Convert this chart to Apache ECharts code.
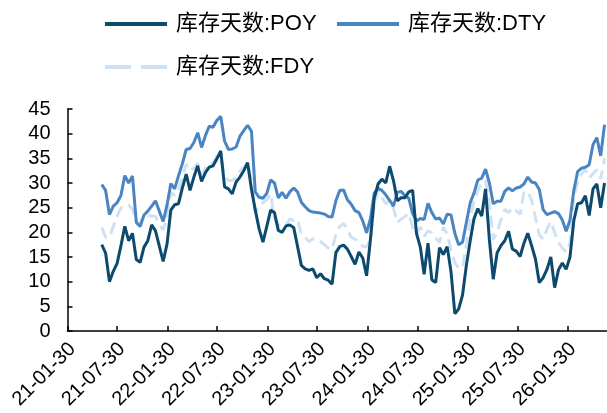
<!DOCTYPE html>
<html>
<head>
<meta charset="utf-8">
<script src="https://cdn.jsdelivr.net/npm/echarts@6/dist/echarts.min.js"></script>
<style>
html,body{margin:0;padding:0;background:#fff;}
#chart{width:607px;height:413px;}
</style>
</head>
<body>
<div id="chart"></div>
<script>
// Bi-weekly observation dates
const dates = [
'2021-06-04','2021-06-18','2021-07-02','2021-07-16','2021-07-30','2021-08-13','2021-08-27','2021-09-10','2021-09-24','2021-10-08','2021-10-22','2021-11-05','2021-11-19','2021-12-03','2021-12-17','2021-12-31',
'2022-01-14','2022-01-28','2022-02-11','2022-02-25','2022-03-11','2022-03-25','2022-04-08','2022-04-22','2022-05-06','2022-05-20','2022-06-03','2022-06-17','2022-07-01','2022-07-15','2022-07-29','2022-08-12','2022-08-26','2022-09-09','2022-09-23','2022-10-07','2022-10-21','2022-11-04','2022-11-18','2022-12-02','2022-12-16','2022-12-30',
'2023-01-13','2023-01-27','2023-02-10','2023-02-24','2023-03-10','2023-03-24','2023-04-07','2023-04-21','2023-05-05','2023-05-19','2023-06-02','2023-06-16','2023-06-30','2023-07-14','2023-07-28','2023-08-11','2023-08-25','2023-09-08','2023-09-22','2023-10-06','2023-10-20','2023-11-03','2023-11-17','2023-12-01','2023-12-15','2023-12-29',
'2024-01-12','2024-01-26','2024-02-09','2024-02-23','2024-03-08','2024-03-22','2024-04-05','2024-04-19','2024-05-03','2024-05-17','2024-05-31','2024-06-14','2024-06-28','2024-07-12','2024-07-26','2024-08-09','2024-08-23','2024-09-06','2024-09-20','2024-10-04','2024-10-18','2024-11-01','2024-11-15','2024-11-29','2024-12-13','2024-12-27',
'2025-01-10','2025-01-24','2025-02-07','2025-02-21','2025-03-07','2025-03-21','2025-04-04','2025-04-18','2025-05-02','2025-05-16','2025-05-30','2025-06-13','2025-06-27','2025-07-11','2025-07-25','2025-08-08','2025-08-22','2025-09-05','2025-09-19','2025-10-03','2025-10-17','2025-10-31','2025-11-14','2025-11-28','2025-12-12','2025-12-26',
'2026-01-09','2026-01-23','2026-02-06','2026-02-20','2026-03-06','2026-03-20','2026-04-03','2026-04-17','2026-05-01','2026-05-15','2026-05-29','2026-06-12'
];

const poy = [
17.5,15.8,10,12.1,13.7,17.3,21.2,18.3,19.8,14.5,13.9,17,18.3,21.5,20.3,17.2,
14.1,17.6,24.5,25.6,25.8,29,31.8,28.5,31.2,33.5,30.3,32.1,33.2,33.5,34.9,36.5,29.2,28.8,27.8,30.2,31.2,32.5,34.1,28.8,24.5,20.7,
18,21.2,24.5,24,20.4,20,21.3,21.5,21,17.2,13.3,12.6,12.3,12.6,10.8,11.6,10.6,10.3,9.5,15.9,17.1,17.4,16.6,15.1,13.5,16,
14.8,11.2,18.5,27,29.8,30.8,30,33.4,30.5,26.4,27,27,28.2,28.5,19.8,17,11.5,17.8,10.4,9.8,16.9,15.5,17.1,12,3.5,4.5,
7.3,13.3,18.3,22.8,24.8,23.3,28.8,18.5,10.5,15.8,17.3,18.3,20.2,16.6,16.2,15.1,17.8,19.8,17.3,14.6,9.8,10.8,12.5,15,8.8,12.4,
13.8,12.5,15,22.4,25.8,26,27.4,23.4,28.8,29.8,25,30
];

const dty = [
29.7,28.5,23.6,25.3,26,27.5,31.5,30,31.4,22,21.2,23.5,24.3,25.3,26.4,24.3,
22.2,25.5,29.9,28.8,31.5,33.9,36.8,37,38.2,40.2,37.2,39.6,41.5,41.3,42.7,43.5,38.5,36.8,36.9,37.3,39.5,40.6,41.7,40.5,28.2,27.1,
26.9,27.9,30.6,30,27,28.1,26.9,28.2,29,28.2,26.1,25.2,24.4,24.1,24,23.9,23.7,23.2,23.1,26.4,28.5,28.6,26.6,25.7,24.4,24,
22.3,19.9,22.7,28,28.9,28.5,27.6,26.5,25.3,28.1,28.3,27.4,26.9,23.8,22.3,22.8,22.6,25.9,24,22.7,22.9,21.7,23.7,23.5,19.8,17.5,
18,22,26,28,30.6,31,32.8,30,25.8,26.3,26.3,28.3,29,28.4,29,29.2,29.8,31.2,30.2,30,28.7,24.6,23.6,23.9,24.2,23.8,
22.5,20.2,22.5,28.5,32.3,33,33.2,33.7,37.8,39.2,35.5,41.8
];

const fdy = [
21,19,19,21.2,23.3,25,25.2,25.5,24.7,22,21.9,23.4,23.4,23.3,23.2,21.6,
20.5,22.8,28,27.5,28.5,31.2,33.8,32.5,33,34,31.7,33,33.7,34.1,35.4,35.5,31.5,30.5,30.5,31.2,32.4,33.2,34,30.5,24.2,25.1,
26,26.6,27.8,22.7,21.5,21.1,21.5,22.7,22.4,22.6,19.6,19,18.1,18.7,18.5,18.1,17.5,16.8,16.6,19.5,21.2,21.8,20.6,19,18.6,18,
17.2,17.1,18.5,25.5,28.5,27,25.8,26.4,24.9,22,22.7,23.2,23.8,21,19.6,21.1,19.2,20.3,19.9,18.9,17.9,21.1,19.7,16.5,13.8,12.8,
12.8,17.5,22.6,26.5,28.5,30,30.5,26,18.5,20.1,22.5,24.7,24,25,24.4,23.6,28.1,28.3,26.5,23,19.5,18.6,20.6,22.2,20,18,
16.8,16,17.8,27,30.3,31.8,32.7,31,31.9,32.7,30.8,35
];

const tickDates = ['2021-01-30','2021-07-30','2022-01-30','2022-07-30','2023-01-30','2023-07-30','2024-01-30','2024-07-30','2025-01-30','2025-07-30','2026-01-30'];
const axisStart = '2021-01-30';
const axisEnd = '2026-06-21';
const seriesNames = ['库存天数:POY','库存天数:DTY','库存天数:FDY'];
const yTicks = [0,5,10,15,20,25,30,35,40,45];

function ts(s){const p=s.split('-').map(Number);return Date.UTC(p[0],p[1]-1,p[2]);}
function pad(n){return (n<10?'0':'')+n;}
function fmt(v){const d=new Date(v);return pad(d.getUTCFullYear()%100)+'-'+pad(d.getUTCMonth()+1)+'-'+pad(d.getUTCDate());}
function pairs(vals){return dates.map((d,i)=>[ts(d),vals[i]]);}

const FONT = '"Liberation Sans", Arial, "Noto Sans CJK SC", sans-serif';
const colors = {poy:'#0c4a6e', dty:'#4a85c2', fdy:'#cfe2f3'};
const tickVals = tickDates.map(ts);

function legendAt(name,left,top,color,dash){
  return {data:[name],left:left,top:top,itemWidth:62,itemHeight:14,
    itemStyle:{opacity:0},
    lineStyle:{width:4,color:color,type:dash||'solid',cap:'butt'},
    textStyle:{fontSize:22,fontFamily:FONT,color:'#000',lineHeight:26,padding:[0,0,0,4]},
    selectedMode:false};
}

const chart = echarts.init(document.getElementById('chart'));
chart.setOption({
  animation:false,
  backgroundColor:'#fff',
  legend:[
    legendAt(seriesNames[0],98,6,colors.poy),
    legendAt(seriesNames[1],330,6,colors.dty),
    legendAt(seriesNames[2],98,49,colors.fdy,[26,10])
  ],
  grid:{left:67.5,right:0,top:109,bottom:82,containLabel:false},
  xAxis:{
    type:'value',min:ts(axisStart),max:ts(axisEnd),scale:true,
    axisLine:{show:true,onZero:false,lineStyle:{color:'#000',width:1.5}},
    axisTick:{show:true,inside:true,length:5,lineStyle:{color:'#000',width:1.5},customValues:tickVals},
    axisLabel:{customValues:tickVals,formatter:v=>fmt(v),rotate:45,margin:20,padding:[0,-7,0,0],fontSize:20,fontFamily:FONT,color:'#000'},
    splitLine:{show:false}
  },
  yAxis:{
    type:'value',min:yTicks[0],max:yTicks[yTicks.length-1],interval:5,
    axisLine:{show:true,lineStyle:{color:'#000',width:1.5}},
    axisTick:{show:true,inside:true,length:5,lineStyle:{color:'#000',width:1.5}},
    axisLabel:{fontSize:20,fontFamily:FONT,color:'#000',margin:17},
    splitLine:{show:false}
  },
  series:[
    {name:seriesNames[2],type:'line',data:pairs(fdy),symbol:'none',z:2,
     lineStyle:{color:colors.fdy,width:3,type:[12,6]},itemStyle:{color:colors.fdy}},
    {name:seriesNames[1],type:'line',data:pairs(dty),symbol:'none',z:3,
     lineStyle:{color:colors.dty,width:3},itemStyle:{color:colors.dty}},
    {name:seriesNames[0],type:'line',data:pairs(poy),symbol:'none',z:4,
     lineStyle:{color:colors.poy,width:3},itemStyle:{color:colors.poy}}
  ]
});
</script>
</body>
</html>
